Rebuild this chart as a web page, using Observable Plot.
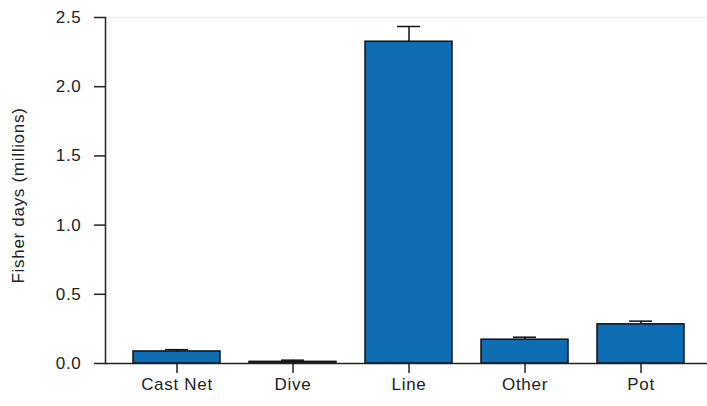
<!DOCTYPE html>
<html>
<head>
<meta charset="utf-8">
<script src="https://cdn.jsdelivr.net/npm/d3@7"></script>
<script src="https://cdn.jsdelivr.net/npm/@observablehq/plot@0.6"></script>
<style>
  html, body { margin: 0; padding: 0; background: #fff; }
  svg text { letter-spacing: 0.7px; }
</style>
</head>
<body>
<div id="chart"></div>
<script>
// Fishing effort by gear type
const gears = ["Cast Net", "Dive", "Line", "Other", "Pot"];
const fisherDays = [0.087, 0.012, 2.325, 0.172, 0.283];   // millions
const stdErrors = [0.013, 0.012, 0.11, 0.018, 0.023];     // millions
const yTicks = [0, 0.5, 1.0, 1.5, 2.0, 2.5];

const rows = gears.map((g, i) => ({gear: g, value: fisherDays[i], err: stdErrors[i]}));

const chart = Plot.plot({
  width: 707,
  height: 406,
  marginTop: 17,
  marginBottom: 43,
  marginLeft: 105,
  marginRight: 0,
  style: {fontFamily: "'Liberation Sans', Arial, sans-serif", fontSize: "17px", color: "#222"},
  x: {domain: gears, range: [105, 711], paddingInner: 0.25, paddingOuter: 0.23, label: null},
  y: {domain: [0, 2.5], label: null},
  marks: [
    Plot.ruleY([2.5], {stroke: "#ececec", strokeWidth: 1}),
    Plot.ruleX(rows, {x: "gear", y1: "value", y2: d => d.value + d.err, stroke: "#111", strokeWidth: 1.5}),
    Plot.tickY(rows, {x: "gear", y: d => d.value + d.err, stroke: "#111", strokeWidth: 1.5, insetLeft: 32, insetRight: 32}),
    Plot.barY(rows, {x: "gear", y: "value", fill: "#0e6cb2", stroke: "#111", strokeWidth: 1.5}),
    Plot.frame({anchor: "left", stroke: "#222", strokeWidth: 1.5}),
    Plot.ruleY([0], {stroke: "#222", strokeWidth: 1.5}),
    Plot.axisY(yTicks, {tickSize: 11, tickPadding: 13, tickFormat: d3.format(".1f"), label: null, stroke: "#222", strokeWidth: 1.5}),
    Plot.axisX({tickSize: 10, tickPadding: 4, label: null, stroke: "#222", strokeWidth: 1.5}),
    Plot.text(["Fisher days (millions)"], {frameAnchor: "left", dx: -87, dy: 5, rotate: -90, textAnchor: "middle", fontSize: 17, fill: "#222"})
  ]
});
document.getElementById("chart").appendChild(chart);
</script>
</body>
</html>
